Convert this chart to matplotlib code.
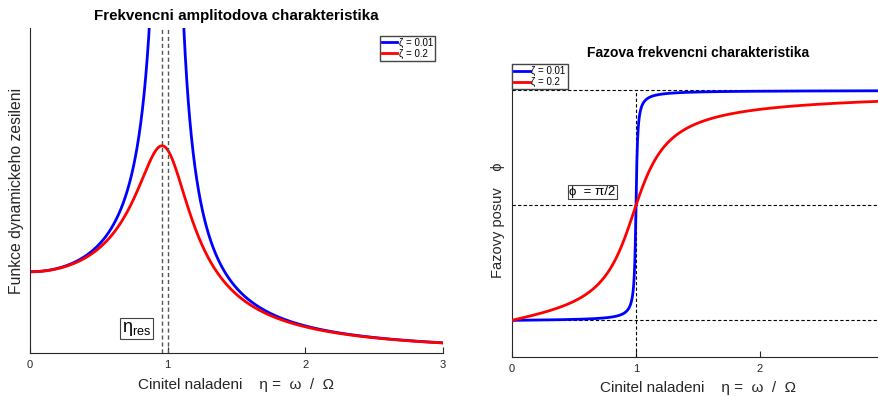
import numpy as np
import matplotlib
matplotlib.use('Agg')
import matplotlib.pyplot as plt

plt.rcParams['font.family'] = ['Liberation Sans', 'DejaVu Sans']

# --- Damping ratios and tuning range ---
zetas = [0.01, 0.2]
zeta_labels = ['ζ = 0.01', 'ζ = 0.2']
colors = ['#0000ff', '#ff0000']
eta = np.linspace(0, 3, 3001)
x_ticks_amp = [0, 1, 2, 3]
x_ticks_phase = [0, 1, 2]
eta_res = np.sqrt(1 - 2 * zetas[1] ** 2)   # resonance of the ζ = 0.2 curve

gray = '#262626'
box = dict(boxstyle='square,pad=0.1', facecolor='white', edgecolor='#444444', linewidth=0.8)
leg_kw = dict(fontsize=7, handlelength=1.6, handletextpad=0.2, borderpad=0.2,
              labelspacing=0.1, fancybox=False, edgecolor='#444444', framealpha=1)

fig = plt.figure(figsize=(8.79, 3.96), dpi=100)

# --- Amplitude response ---
ax1 = fig.add_axes([0.0341, 0.1086, 0.4699, 0.8204])
for z, lab, c in zip(zetas, zeta_labels, colors):
    amp = 1.0 / np.sqrt((1 - eta ** 2) ** 2 + (2 * z * eta) ** 2)
    ax1.plot(eta, amp, color=c, linewidth=2, label=lab)
for xv in [eta_res, 1.0]:
    ax1.axvline(xv, color='#555555', linestyle='--', linewidth=1, dashes=(3, 2))
ax1.set_xlim(0, 3)
ax1.set_ylim(0, 4)
ax1.set_xticks(x_ticks_amp)
ax1.set_yticks([])
ax1.set_title('Frekvencni amplitodova charakteristika', fontsize=10.9, fontweight='bold', pad=6)
ax1.set_xlabel('Cinitel naladeni    η =  ω  /  Ω', fontsize=11, color=gray, labelpad=6)
ax1.set_ylabel('Funkce dynamickeho zesileni', fontsize=11.3, color=gray, labelpad=4)
ax1.text(0.665, 0.19, r'$\mathregular{\eta_{res}}$', fontsize=13, color='black',
         ha='left', va='bottom', bbox=box)
ax1.legend(loc='upper right', borderaxespad=0.8, **leg_kw)

# --- Phase response ---
ax2 = fig.add_axes([0.5825, 0.0985, 0.4232, 0.7399])
for z, lab, c in zip(zetas, zeta_labels, colors):
    phi = np.arctan2(2 * z * eta, 1 - eta ** 2)
    ax2.plot(eta, phi, color=c, linewidth=2, label=lab, zorder=3)
for yv in [0, np.pi / 2, np.pi]:
    ax2.axhline(yv, color='black', linestyle='--', linewidth=0.8, dashes=(3, 2), zorder=2)
ax2.plot([1, 1], [-0.5, np.pi], color='black', linestyle='--', linewidth=0.8,
         dashes=(3, 2), zorder=2)
ax2.set_xlim(0, 3)
ax2.set_ylim(-0.5, 3.5)
ax2.set_xticks(x_ticks_phase)
ax2.set_yticks([])
ax2.set_title('Fazova frekvencni charakteristika', fontsize=10, fontweight='bold', pad=5)
ax2.set_xlabel('Cinitel naladeni    η =  ω  /  Ω', fontsize=11, color=gray, labelpad=5)
ax2.set_ylabel('Fazovy posuv    ϕ', fontsize=10.5, color=gray)
ax2.yaxis.set_label_coords(-0.02, 0.468)
ax2.text(0.46, 1.67, 'ϕ  = π/2', fontsize=9.5, color='black', ha='left', va='bottom', bbox=box)
ax2.legend(loc='upper left', borderaxespad=0.0, **leg_kw)

for ax in (ax1, ax2):
    ax.spines['top'].set_visible(False)
    ax.spines['right'].set_visible(False)
    ax.spines['left'].set_color(gray)
    ax.spines['bottom'].set_color(gray)
    ax.tick_params(axis='x', direction='in', length=4, labelsize=8, colors=gray, pad=5)

fig.savefig('out.png', dpi=100)
